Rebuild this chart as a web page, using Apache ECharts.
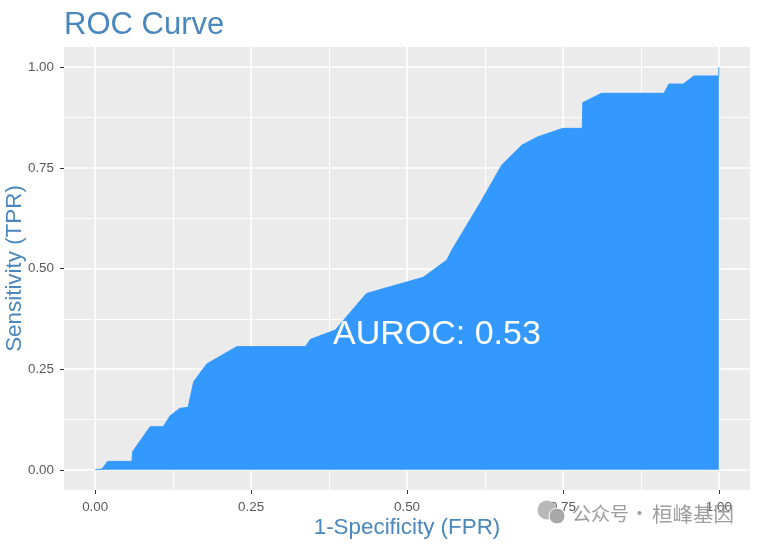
<!DOCTYPE html>
<html>
<head>
<meta charset="utf-8">
<style>
  html, body { margin: 0; padding: 0; background: #fff; }
  #chart { width: 759px; height: 544px; }
</style>
<script src="https://cdn.jsdelivr.net/npm/echarts@6/dist/echarts.min.js"></script>
</head>
<body>
<div id="chart"></div>
<script>
// curve
const fpr = [0, 0.011, 0.020, 0.059, 0.060, 0.088, 0.109, 0.120, 0.136, 0.149, 0.158, 0.179,
  0.227, 0.337, 0.345, 0.385, 0.403, 0.435, 0.526, 0.564, 0.572, 0.617, 0.652, 0.684, 0.710,
  0.750, 0.781, 0.782, 0.812, 0.912, 0.920, 0.943, 0.960, 1, 1];
const tpr = [0, 0.002, 0.021, 0.021, 0.045, 0.107, 0.107, 0.134, 0.153, 0.155, 0.219, 0.263,
  0.306, 0.306, 0.324, 0.347, 0.380, 0.438, 0.478, 0.521, 0.546, 0.662, 0.757, 0.806, 0.827,
  0.848, 0.848, 0.912, 0.935, 0.935, 0.958, 0.958, 0.978, 0.978, 1];
const majorTicks = [0, 0.25, 0.5, 0.75, 1];
const minorTicks = [0.125, 0.375, 0.625, 0.875];
const annotation = [0.548, 0.337];

const FONT = '"Liberation Sans", Arial, sans-serif';
const TITLE_COLOR = '#4A87BD';
const FILL = '#3399FF';
const MARK_COLOR = 'rgba(140,140,140,0.85)';

// ggplot style axis: major lines, ticks and labels on the custom values
function majorAxis(name, extra) {
  return Object.assign({
    type: 'value',
    name: name,
    nameLocation: 'middle',
    nameMoveOverlap: false,
    nameTextStyle: {color: TITLE_COLOR, fontSize: 22.4, fontFamily: FONT},
    min: -0.05,
    max: 1.05,
    axisLine: {show: false, onZero: false},
    axisTick: {show: true, length: 4, customValues: majorTicks, lineStyle: {color: '#333', width: 1}},
    splitLine: {show: true, lineStyle: {color: '#fff', width: 1.5}}
  }, extra);
}

// second pair of axes only carries the minor grid lines
function minorAxis(position) {
  return {
    type: 'value',
    position: position,
    min: -0.05,
    max: 1.05,
    axisLine: {show: false, onZero: false},
    axisTick: {show: false, customValues: minorTicks},
    axisLabel: {show: false, customValues: minorTicks},
    splitLine: {show: true, lineStyle: {color: '#fff', width: 1}}
  };
}

const labelStyle = {color: '#5A5A5A', fontSize: 13.4, fontFamily: FONT, customValues: majorTicks,
  formatter: (v) => v.toFixed(2)};

const chart = echarts.init(document.getElementById('chart'));
chart.setOption({
  animation: false,
  backgroundColor: '#fff',
  title: {
    text: 'ROC Curve',
    left: 64,
    top: 10,
    padding: 0,
    textStyle: {color: TITLE_COLOR, fontSize: 31, fontWeight: 'normal', fontFamily: FONT}
  },
  grid: {
    left: 64, right: 9, top: 47, bottom: 54,
    outerBoundsMode: 'none',
    show: true, backgroundColor: '#EBEBEB', borderWidth: 0
  },
  xAxis: [
    majorAxis('1-Specificity (FPR)', {nameGap: 27, axisLabel: Object.assign({margin: 11}, labelStyle)}),
    minorAxis('top')
  ],
  yAxis: [
    majorAxis('Sensitivity (TPR)', {nameGap: 38, axisLabel: Object.assign({margin: 10}, labelStyle)}),
    minorAxis('right')
  ],
  series: [
    {
      type: 'line',
      data: fpr.map((x, i) => [x, tpr[i]]),
      showSymbol: false,
      symbol: 'none',
      lineStyle: {color: FILL, width: 1},
      areaStyle: {color: FILL, opacity: 1, origin: 0},
      z: 3
    },
    {
      type: 'scatter',
      data: [annotation],
      symbolSize: 0,
      silent: true,
      z: 4,
      itemStyle: {opacity: 1},
      label: {
        show: true,
        position: 'inside',
        formatter: 'AUROC: 0.53',
        color: '#fff',
        opacity: 1,
        fontSize: 34,
        fontFamily: FONT
      }
    }
  ],
  // watermark over the lower right corner
  graphic: [
    {type: 'circle', shape: {cx: 547, cy: 510, r: 9.5}, style: {fill: '#b8b8b8'}, z: 10},
    {type: 'circle', shape: {cx: 557, cy: 516, r: 8}, style: {fill: '#a8a8a8', stroke: '#fff', lineWidth: 1}, z: 11},
    {
      type: 'text', x: 572, y: 514, z: 12,
      style: {text: '公众号', fill: MARK_COLOR, font: '19px "Noto Sans CJK SC"', verticalAlign: 'middle'}
    },
    {
      type: 'text', x: 630, y: 514, z: 12,
      style: {text: '·', fill: MARK_COLOR, font: '19px "Noto Sans CJK SC"', verticalAlign: 'middle'}
    },
    {
      type: 'text', x: 652, y: 514, z: 12,
      style: {text: '桓峰基因', fill: MARK_COLOR, font: '20.5px "Noto Sans CJK SC"', verticalAlign: 'middle'}
    }
  ]
});
</script>
</body>
</html>
